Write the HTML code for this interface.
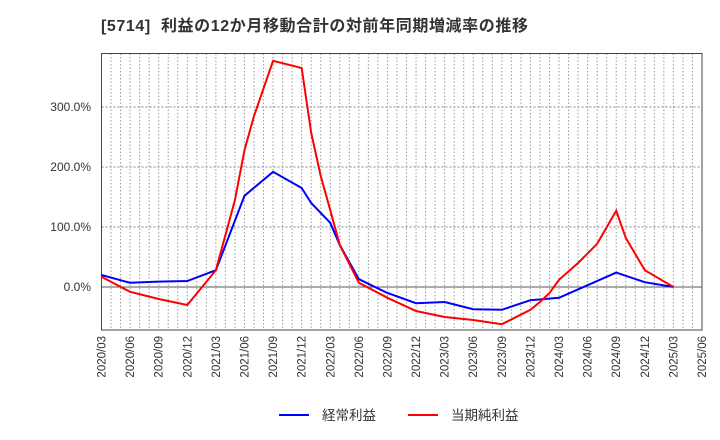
<!DOCTYPE html>
<html><head><meta charset="utf-8"><style>
body{margin:0;background:#fff;font-family:"Liberation Sans","Noto Sans CJK JP",sans-serif}
</style></head><body>
<svg id="c" width="720" height="440" style="display:block">
<text x="101" y="31" font-size="16" font-weight="bold" fill="#333" letter-spacing="0.6" xml:space="preserve">[5714]  利益の12か月移動合計の対前年同期増減率の推移</text>
</svg>
<script>
const xLabels=["2020/03","2020/06","2020/09","2020/12","2021/03","2021/06","2021/09","2021/12","2022/03","2022/06","2022/09","2022/12","2023/03","2023/06","2023/09","2023/12","2024/03","2024/06","2024/09","2024/12","2025/03","2025/06"];
const yTicks=[0,100,200,300];
const blueMonths=[0,3,6,9,12,15,18,21,22,24,25,27,30,33,36,39,42,45,48,51,54,57,60];
const blueVals=[20,7,9,10,28,152,192,165,140,107,70,13,-10,-27,-25,-37,-38,-22,-18,3,24,8,0];
const redMonths=[0,3,6,9,12,14,15,16,18,21,22,23,24,25,27,30,33,36,39,42,45,46,47,48,50,52,54,55,57,60];
const redVals=[17,-8,-20,-30,28,145,228,285,377,365,257,185,128,70,7,-18,-40,-50,-55,-62,-38,-25,-10,12,40,72,127,82,28,0];
const L=101.5,R=702,T=53.5,B=330,NM=63;
const x=m=>L+(R-L)*m/NM;
const y=v=>287-v*0.6;
const svg=document.getElementById('c');
const NS='http://www.w3.org/2000/svg';
function mk(t,a){const e=document.createElementNS(NS,t);for(const k in a)e.setAttribute(k,a[k]);svg.appendChild(e);return e;}
for(let m=1;m<NM;m++){const g=mk('line',{x1:x(m),x2:x(m),y1:T,y2:B,stroke:'#999','stroke-dasharray':'1.5,2','stroke-width':1});

}
yTicks.forEach(v=>{const g=mk('line',{x1:L,x2:R,y1:y(v),y2:y(v),stroke:v===0?'#555':'#888','stroke-dasharray':v===0?'':'2,2','stroke-width':1});


const t=mk('text',{x:91,y:y(v)+4,'text-anchor':'end','font-size':12,fill:'#333'});t.textContent=v.toFixed(1)+'%';

});
const fr=mk('rect',{x:L,y:T,width:R-L,height:B-T,fill:'none',stroke:'#444','stroke-width':1});


xLabels.forEach((s,i)=>{const xx=x(i*3);const t=mk('text',{x:0,y:0,'font-size':11.5,fill:'#333','text-anchor':'end',transform:`translate(${xx+4},${B+6}) rotate(-90)`});t.textContent=s;

});
function line(ms,vs,c,n){const p=mk('polyline',{points:ms.map((m,i)=>x(m)+','+y(vs[i])).join(' '),fill:'none',stroke:c,'stroke-width':2});

}
line(blueMonths,blueVals,'#0000ff','ordinary-profit-line');
line(redMonths,redVals,'#ff0000','net-profit-line');
const l1=mk('line',{x1:279,x2:309,y1:415,y2:415,stroke:'#0000ff','stroke-width':2});


const t1=mk('text',{x:322,y:420,'font-size':13.5,fill:'#333'});t1.textContent='経常利益';


const l2=mk('line',{x1:408,x2:438,y1:415,y2:415,stroke:'#ff0000','stroke-width':2});


const t2=mk('text',{x:451,y:420,'font-size':13.5,fill:'#333'});t2.textContent='当期純利益';


</script>
</body></html>
